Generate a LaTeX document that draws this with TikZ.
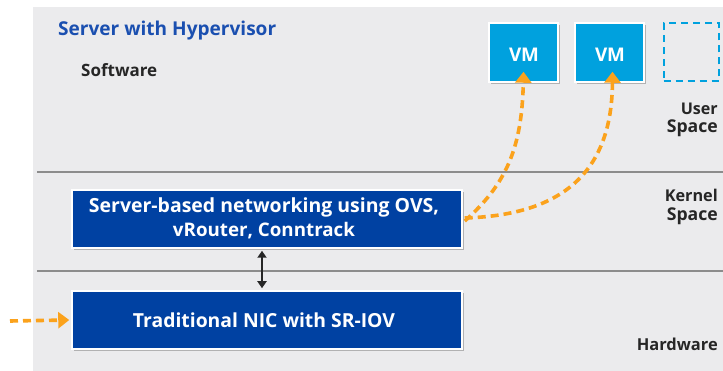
\documentclass[tikz,border=0pt]{standalone}
\usepackage{fontspec}
\setmainfont{Open Sans}
\usetikzlibrary{arrows.meta,shadows}
\definecolor{bgGray}{HTML}{EBEBED}
\definecolor{lineGray}{HTML}{8C8C8C}
\definecolor{titleBlue}{HTML}{1A4FB0}
\definecolor{darkBlue}{HTML}{0041A2}
\definecolor{vmBlue}{HTML}{00A1DE}
\definecolor{arrOrange}{HTML}{FBA21C}
\definecolor{txtDark}{HTML}{262626}
\newcommand{\fitw}[2]{\resizebox{#1pt}{!}{\bfseries #2}}
\tikzset{
  bluebox/.style={draw=white, line width=1.5pt, fill=darkBlue, inner sep=0pt,
    minimum width=390pt, minimum height=58pt,
    drop shadow={shadow xshift=2pt, shadow yshift=-2pt, fill=black!40, opacity=0.7}},
  vmbox/.style={draw=white, line width=1.5pt, fill=vmBlue,
    minimum width=69pt, minimum height=59pt, inner sep=0pt,
    drop shadow={shadow xshift=2pt, shadow yshift=-2pt, fill=black!40, opacity=0.7}},
  emptybox/.style={draw=vmBlue, line width=2pt, dash pattern=on 7pt off 5pt, minimum width=55pt, minimum height=58pt, inner sep=0pt},
  lbl/.style={text=txtDark, inner sep=0pt},
  wlbl/.style={text=white, inner sep=0pt},
  orangeflow/.style={draw=arrOrange, line width=3.6pt, dash pattern=on 8pt off 5pt, -{Triangle[length=11pt,width=16pt,fill=arrOrange]}},
  seprule/.style={draw=lineGray, line width=2pt}
}
\begin{document}
\begin{tikzpicture}[x=1pt,y=-1pt]
\useasboundingbox (0,0) rectangle (723,371);
\fill[bgGray] (33,7) rectangle (723,371);
\draw[seprule] (37,172) -- (723,172);
\draw[seprule] (37,271) -- (723,271);
\node[anchor=base west, text=titleBlue, inner sep=0pt] (title) at (58,36) {\fitw{218}{Server with Hypervisor}};
\node[anchor=base west, lbl] (sw) at (81,77) {\fitw{76}{Software}};
\node[vmbox] (vm1) at (523.5,52.5) {};
\node[vmbox] (vm2) at (609.5,52.5) {};
\node[wlbl, anchor=base] (vm1t) at (524,62) {\fitw{30}{VM}};
\node[wlbl, anchor=base] (vm2t) at (610,62) {\fitw{30}{VM}};
\node[emptybox] (vm3) at (691,52.5) {};
\node[lbl, anchor=base east] (us1) at (718,115) {\fitw{37}{User}};
\node[lbl, anchor=base east] (us2) at (718,133) {\fitw{51}{Space}};
\node[lbl, anchor=base east] (ks1) at (718,202) {\fitw{53}{Kernel}};
\node[lbl, anchor=base east] (ks2) at (718,221) {\fitw{51}{Space}};
\node[lbl, anchor=base east] (hw) at (718,350) {\fitw{81}{Hardware}};
\node[bluebox] (sbn) at (267,219) {};
\node[bluebox] (nic) at (267,320) {};
\node[wlbl, anchor=base] (sbn1) at (264,213) {\fitw{350}{Server-based networking using OVS,}};
\node[wlbl, anchor=base] (sbn2) at (264,237) {\fitw{182}{vRouter, Conntrack}};
\node[wlbl, anchor=base] (nict) at (264,327) {\fitw{262}{Traditional NIC with SR-IOV}};
\coordinate (src) at (10,321);
\draw[black!85, line width=2pt, {Triangle[length=7pt,width=9pt]}-{Triangle[length=7pt,width=9pt]}] ([xshift=-5pt,yshift=-2pt]sbn.south) -- ([xshift=-5pt,yshift=2pt]nic.north);
\draw[orangeflow] (src) -- ([xshift=-2pt]nic.west);
\draw[orangeflow] ([xshift=2pt,yshift=-2pt]sbn.east) .. controls (505,185) and (522,150) .. ([yshift=11pt]vm1.south);
\draw[orangeflow] ([xshift=2pt,yshift=1pt]sbn.east) .. controls (565,215) and (612,170) .. ([xshift=3pt,yshift=11pt]vm2.south);
\end{tikzpicture}
\end{document}
